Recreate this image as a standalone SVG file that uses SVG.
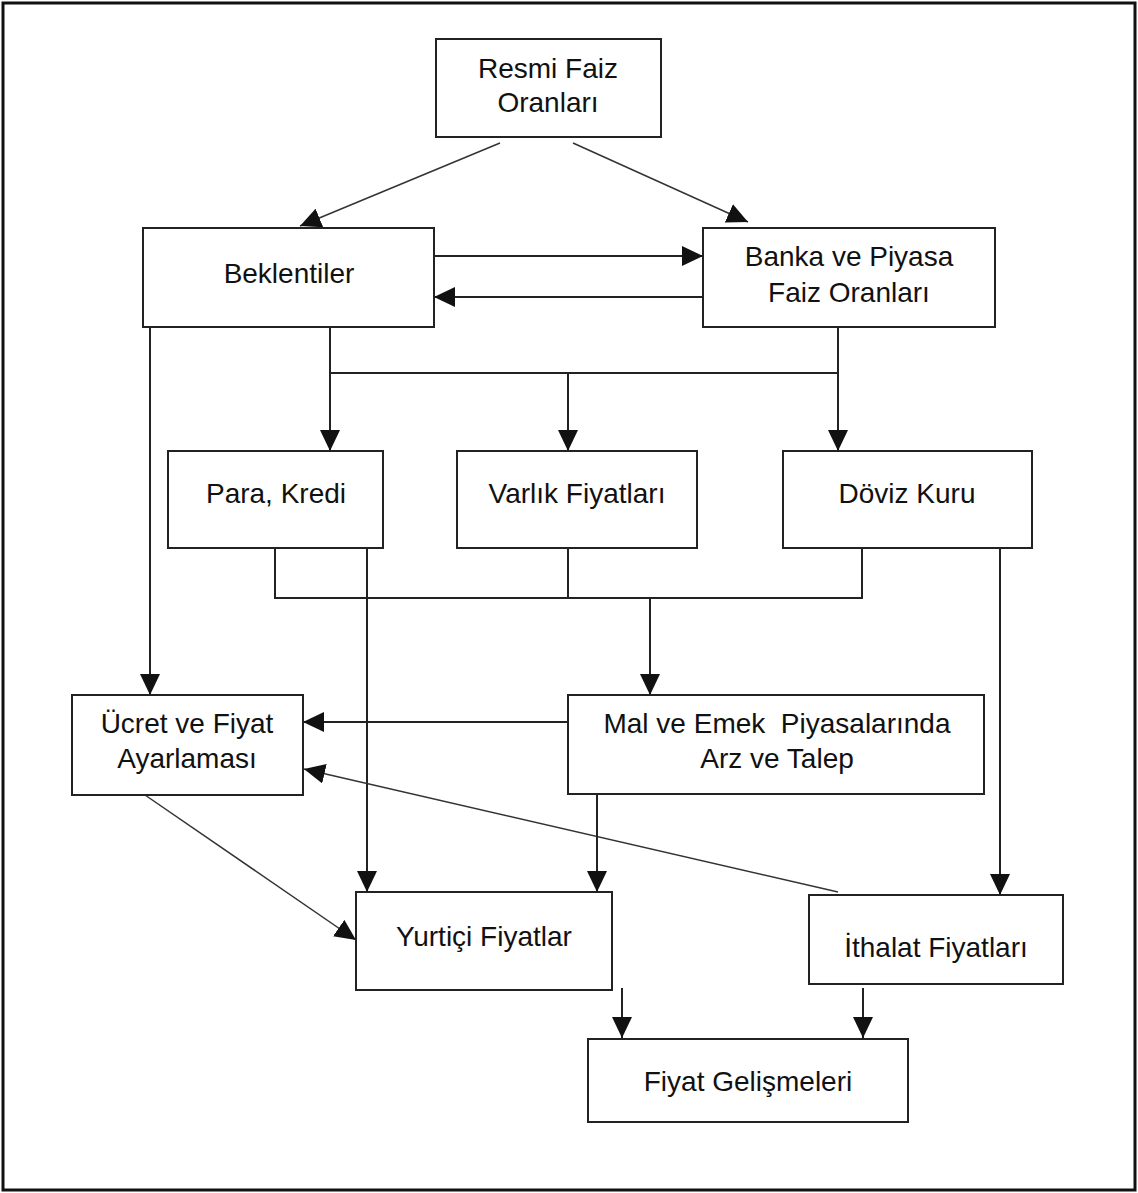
<svg xmlns="http://www.w3.org/2000/svg" width="1138" height="1193" viewBox="0 0 1138 1193">
<style>
.box{fill:#fff;stroke:#222;stroke-width:2}
.t{font-family:"Liberation Sans",Arial,sans-serif;font-size:28px;fill:#111;text-anchor:middle}
.c{fill:none;stroke:#222;stroke-width:2}
.d{fill:none;stroke:#333;stroke-width:1.5}
</style>
<defs>
<marker id="ah" markerUnits="userSpaceOnUse" markerWidth="22" markerHeight="20" refX="21" refY="10" orient="auto">
<path d="M0,0 L21,10 L0,20 Z" fill="#111"/>
</marker>
</defs>
<rect x="3" y="3" width="1132" height="1187" fill="#fff" stroke="#111" stroke-width="3"/>
<g id="connectors">
<path class="d" d="M500,143 L300,226" marker-end="url(#ah)"/>
<path class="d" d="M573,143 L748,222" marker-end="url(#ah)"/>
<path class="c" d="M434,256 L703,256" marker-end="url(#ah)"/>
<path class="c" d="M703,297 L434,297" marker-end="url(#ah)"/>
<path class="c" d="M150,327 L150,695" marker-end="url(#ah)"/>
<path class="c" d="M330,327 L330,451" marker-end="url(#ah)"/>
<path class="c" d="M330,373 L838,373"/>
<path class="c" d="M838,327 L838,451" marker-end="url(#ah)"/>
<path class="c" d="M568,373 L568,451" marker-end="url(#ah)"/>
<path class="c" d="M275,548 L275,598 L862,598 L862,548"/>
<path class="c" d="M568,548 L568,598"/>
<path class="c" d="M650,598 L650,695" marker-end="url(#ah)"/>
<path class="c" d="M367,548 L367,892" marker-end="url(#ah)"/>
<path class="c" d="M1000,548 L1000,895" marker-end="url(#ah)"/>
<path class="c" d="M568,722 L303,722" marker-end="url(#ah)"/>
<path class="d" d="M838,892 L304,769" marker-end="url(#ah)"/>
<path class="d" d="M145,795 L356,940" marker-end="url(#ah)"/>
<path class="c" d="M597,795 L597,892" marker-end="url(#ah)"/>
<path class="c" d="M622,988 L622,1038" marker-end="url(#ah)"/>
<path class="c" d="M863,988 L863,1038" marker-end="url(#ah)"/>
</g>
<g id="resmi"><rect class="box" x="436" y="39" width="225" height="98"/><text class="t" x="548" y="78">Resmi Faiz</text><text class="t" x="548" y="112">Oranları</text></g>
<g id="beklentiler"><rect class="box" x="143" y="228" width="291" height="99"/><text class="t" x="289" y="283">Beklentiler</text></g>
<g id="banka"><rect class="box" x="703" y="228" width="292" height="99"/><text class="t" x="849" y="266">Banka ve Piyasa</text><text class="t" x="849" y="302">Faiz Oranları</text></g>
<g id="para"><rect class="box" x="168" y="451" width="215" height="97"/><text class="t" x="276" y="503">Para, Kredi</text></g>
<g id="varlik"><rect class="box" x="457" y="451" width="240" height="97"/><text class="t" x="577" y="503">Varlık Fiyatları</text></g>
<g id="doviz"><rect class="box" x="783" y="451" width="249" height="97"/><text class="t" x="907" y="503">Döviz Kuru</text></g>
<g id="ucret"><rect class="box" x="72" y="695" width="231" height="100"/><text class="t" x="187" y="733">Ücret ve Fiyat</text><text class="t" x="187" y="768">Ayarlaması</text></g>
<g id="mal"><rect class="box" x="568" y="695" width="416" height="99"/><text class="t" x="777" y="733" xml:space="preserve">Mal ve Emek  Piyasalarında</text><text class="t" x="777" y="768">Arz ve Talep</text></g>
<g id="yurtici"><rect class="box" x="356" y="892" width="256" height="98"/><text class="t" x="484" y="946">Yurtiçi Fiyatlar</text></g>
<g id="ithalat"><rect class="box" x="809" y="895" width="254" height="89"/><text class="t" x="936" y="957">İthalat Fiyatları</text></g>
<g id="fiyat"><rect class="box" x="588" y="1039" width="320" height="83"/><text class="t" x="748" y="1091">Fiyat Gelişmeleri</text></g>
</svg>
